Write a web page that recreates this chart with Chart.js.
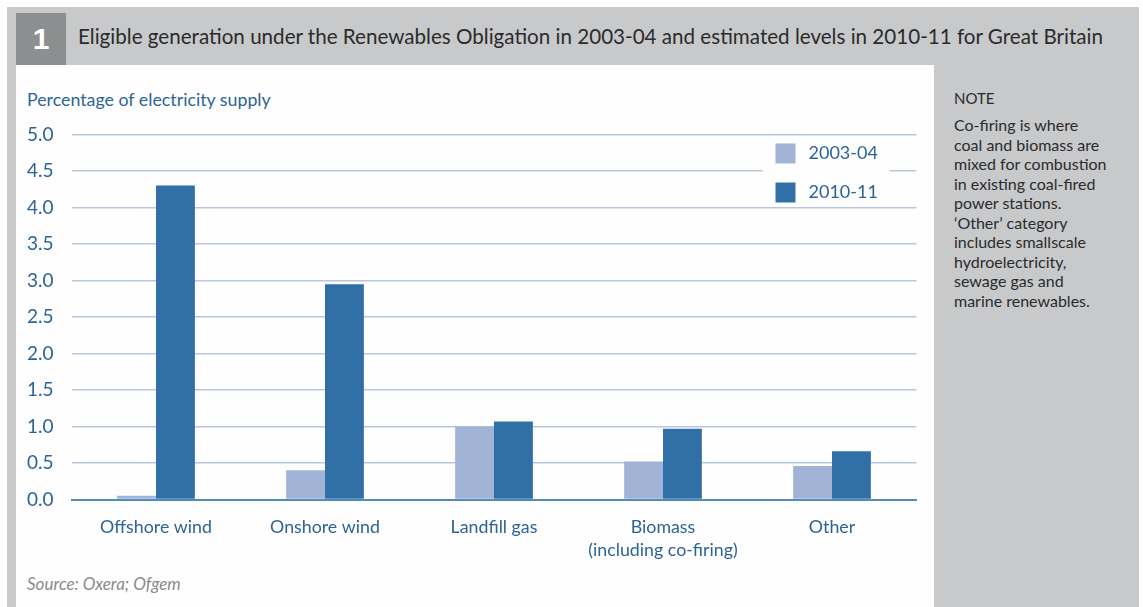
<!DOCTYPE html>
<html>
<head>
<meta charset="utf-8">
<script src="https://cdn.jsdelivr.net/npm/chart.js@4.4.1/dist/chart.umd.min.js"></script>
<style>
  html, body { margin: 0; padding: 0; background: #fefefe; }
  body { width: 1143px; height: 607px; position: relative; overflow: hidden; font-family: "Lato", "Liberation Sans", sans-serif; }
  .band { position: absolute; background: #c8c9cb; }
  #numBox { position: absolute; left: 16px; top: 13px; width: 50px; height: 52px; background: #8d8e90;
            color: #fff; font: bold 30px "Liberation Sans", sans-serif; text-align: center; line-height: 52px; }
  #title { position: absolute; left: 78px; top: 24px; font-size: 20.6px; color: #2b2b2b; white-space: nowrap; }
  #yTitle { position: absolute; left: 27px; top: 88px; font-size: 17.8px; color: #2d6497; white-space: nowrap; }
  #source { position: absolute; left: 27px; top: 573px; font-size: 17px; font-style: italic; color: #8a8a8a; }
  #noteHead { position: absolute; left: 954px; top: 89px; font-size: 15px; color: #2b2b2b; }
  #noteText { position: absolute; left: 954px; top: 115px; font-size: 16px; line-height: 19.5px; color: #2b2b2b; white-space: nowrap; }
  #wrap { position: absolute; left: 0; top: 0; width: 1143px; height: 607px; }
</style>
</head>
<body>
<div class="band" style="left:7px; top:7px; width:1132px; height:58px;"></div>
<div class="band" style="left:7px; top:65px; width:9px; height:542px;"></div>
<div class="band" style="left:934px; top:65px; width:205px; height:542px;"></div>
<div id="numBox">1</div>
<div id="title">Eligible generation under the Renewables Obligation in 2003-04 and estimated levels in 2010-11 for Great Britain</div>
<div id="yTitle">Percentage of electricity supply</div>
<div id="source">Source: Oxera; Ofgem</div>
<div id="noteHead">NOTE</div>
<div id="noteText">Co-firing is where<br>coal and biomass are<br>mixed for combustion<br>in existing coal-fired<br>power stations.<br>‘Other’ category<br>includes smallscale<br>hydroelectricity,<br>sewage gas and<br>marine renewables.</div>
<div id="wrap"><canvas id="chart"></canvas></div>

<script>
  // Categorías y valores (% del suministro eléctrico)
  const categories = ["Offshore wind", "Onshore wind", "Landfill gas", ["Biomass", "(including co-firing)"], "Other"];
  const seriesNames = ["2003-04", "2010-11"];
  const values2003 = [0.05, 0.40, 1.00, 0.52, 0.46];
  const values2010 = [4.30, 2.95, 1.07, 0.97, 0.66];
  const yTicks = [0, 0.5, 1, 1.5, 2, 2.5, 3, 3.5, 4, 4.5, 5];

  const lightBlue = "#a1b4d6";
  const darkBlue = "#3170a6";
  const textBlue = "#2d6497";
  const font = "Lato, 'Liberation Sans', sans-serif";

  // Leyenda dentro del área del gráfico, con fondo blanco
  const insideLegend = {
    id: "insideLegend",
    afterDatasetsDraw(chart) {
      const ctx = chart.ctx;
      const area = chart.chartArea;
      const x0 = area.right - 154;
      const y0 = area.top + 6;
      ctx.save();
      ctx.fillStyle = "#fefefe";
      ctx.fillRect(x0, y0, 127, 66);
      chart.data.datasets.forEach((ds, i) => {
        const y = y0 + 3 + i * 39;
        ctx.fillStyle = ds.backgroundColor;
        ctx.fillRect(x0 + 13, y, 20, 20);
        ctx.fillStyle = textBlue;
        ctx.font = "18px " + font;
        ctx.textBaseline = "middle";
        ctx.fillText(ds.label, x0 + 46, y + 10);
      });
      ctx.restore();
    }
  };

  new Chart(document.getElementById("chart").getContext("2d"), {
    type: "bar",
    data: {
      labels: categories,
      datasets: [
        { label: seriesNames[0], data: values2003, backgroundColor: lightBlue },
        { label: seriesNames[1], data: values2010, backgroundColor: darkBlue }
      ]
    },
    options: {
      responsive: true,
      maintainAspectRatio: false,
      animation: false,
      layout: { padding: { left: 27, right: 226.5, top: 134.5, bottom: 47.5 } },
      datasets: { bar: { categoryPercentage: 0.46, barPercentage: 1.0 } },
      plugins: { legend: { display: false }, tooltip: { enabled: false } },
      scales: {
        x: {
          afterFit(scale) { scale.height = 60; },
          grid: { display: false, drawTicks: false },
          border: { display: true, color: "#4f8dc0", width: 2 },
          ticks: { color: textBlue, padding: 16, maxRotation: 0, font: { family: font, size: 17.8, lineHeight: 1.3 } }
        },
        y: {
          min: 0,
          max: 5,
          afterFit(scale) { scale.width = 44.5; },
          afterBuildTicks(scale) { scale.ticks = yTicks.map(v => ({ value: v })); },
          grid: { color: "#b7c6e2", lineWidth: 1.5, drawTicks: false },
          border: { display: false },
          ticks: {
            color: textBlue,
            crossAlign: "far",
            font: { family: font, size: 19 },
            callback: v => v.toFixed(1)
          }
        }
      }
    },
    plugins: [insideLegend]
  });
</script>
</body>
</html>
